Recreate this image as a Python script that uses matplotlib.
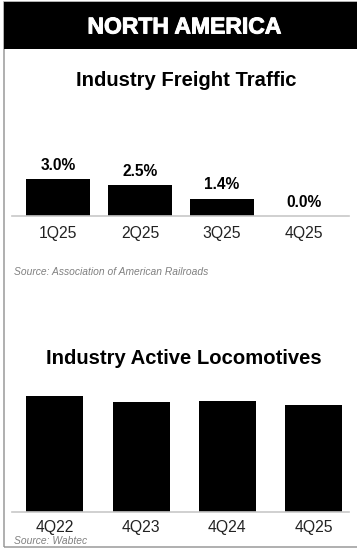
import matplotlib
matplotlib.use('Agg')
import matplotlib.pyplot as plt
import matplotlib.patheffects as pe
from matplotlib.patches import Rectangle

plt.rcParams['font.family'] = ['Liberation Sans', 'DejaVu Sans']

freight_quarters = ['1Q25', '2Q25', '3Q25', '4Q25']
freight_growth = [3.0, 2.5, 1.4, 0.0]

loco_quarters = ['4Q22', '4Q23', '4Q24', '4Q25']
loco_active = [116, 110, 111, 107]  # relative heights, no axis shown

W, H = 357, 551
fig = plt.figure(figsize=(W / 100, H / 100), dpi=100)


def px_box(x0, y0, x1, y1):
    # pixel box (top-left origin) -> figure fraction rect
    return [x0 / W, 1 - y1 / H, (x1 - x0) / W, (y1 - y0) / H]


# frame and black header band
fig.patches.append(Rectangle((3.5 / W, 1 - 547 / H), (W - 2) / W, 545 / H,
                             transform=fig.transFigure, fill=False,
                             edgecolor='#9a9a9a', linewidth=1.1))
fig.patches.append(Rectangle((3.5 / W, 1 - 49 / H), (W - 3) / W, 47 / H,
                             transform=fig.transFigure, facecolor='black',
                             edgecolor='none'))
fig.text(184 / W, 1 - 27 / H, 'NORTH AMERICA', color='white', fontsize=16.5,
         fontweight='bold', ha='center', va='center',
         path_effects=[pe.withStroke(linewidth=0.7, foreground='white')])

# --- freight traffic ---
fig.text(186 / W, 1 - 80 / H, 'Industry Freight Traffic', fontsize=14.6,
         fontweight='bold', ha='center', va='center')

ax1 = fig.add_axes(px_box(12, 150, 349, 216))
px_per = 12.33
ax1.set_xlim(-(58 - 12) / 82, -(58 - 12) / 82 + 337 / 82)
ax1.set_ylim(0, 66 / px_per)
x1 = list(range(len(freight_quarters)))
ax1.bar(x1, freight_growth, width=64 / 82, color='black')
for xi, v in zip(x1, freight_growth):
    ax1.annotate(f'{v:.1f}%', (xi, v), xytext=(0, 10), textcoords='offset points',
                 ha='center', va='center', fontsize=11.2, fontweight='bold',
                 annotation_clip=False)
ax1.axhline(0, color='#c8c8c8', linewidth=1.2, clip_on=False)
ax1.set_xticks(x1)
ax1.set_xticklabels(freight_quarters, fontsize=11.3, color='#222222')
ax1.tick_params(axis='x', length=0, pad=7)
ax1.set_yticks([])
for s in ax1.spines.values():
    s.set_visible(False)
ax1.patch.set_alpha(0)

fig.text(14 / W, 1 - 272 / H, 'Source: Association of American Railroads',
         fontsize=7.4, style='italic', color='#808080', ha='left', va='center')

# --- active locomotives ---
fig.text(184 / W, 1 - 358 / H, 'Industry Active Locomotives', fontsize=14.6,
         fontweight='bold', ha='center', va='center')

ax2 = fig.add_axes(px_box(12, 390, 349, 512))
ax2.set_xlim(-(55 - 12) / 86.2, -(55 - 12) / 86.2 + 337 / 86.2)
ax2.set_ylim(0, 122)
x2 = list(range(len(loco_quarters)))
ax2.bar(x2, loco_active, width=57 / 86.2, color='black')
ax2.axhline(0, color='#c8c8c8', linewidth=1.2, clip_on=False)
ax2.set_xticks(x2)
ax2.set_xticklabels(loco_quarters, fontsize=11.3, color='#222222')
ax2.tick_params(axis='x', length=0, pad=6)
ax2.set_yticks([])
for s in ax2.spines.values():
    s.set_visible(False)
ax2.patch.set_alpha(0)

fig.text(14 / W, 1 - 541 / H, 'Source: Wabtec', fontsize=7.4, style='italic',
         color='#808080', ha='left', va='center')

fig.savefig('out.png', dpi=100, facecolor='white')
